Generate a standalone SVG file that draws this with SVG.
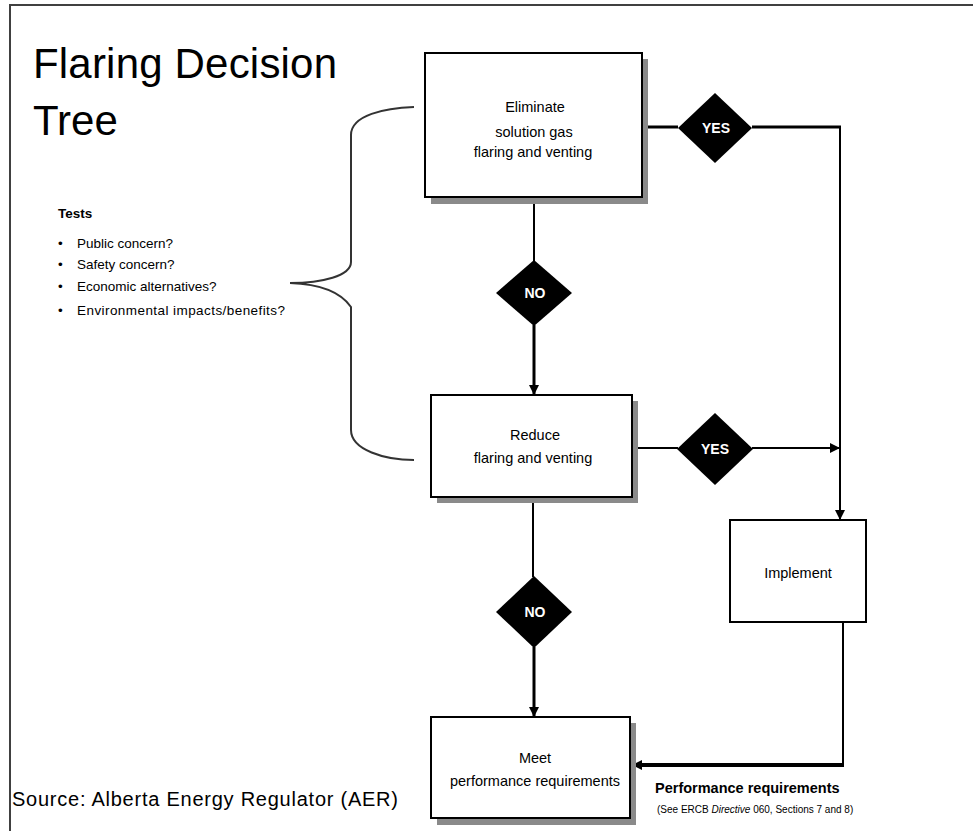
<svg xmlns="http://www.w3.org/2000/svg" width="973" height="831" viewBox="0 0 973 831">
<defs>
<style>
.box{fill:#fff;stroke:#000;stroke-width:2}
.shadow{fill:#8a8a8a}
.dia{fill:#000}
.lbl{font-family:"Liberation Sans",Arial,sans-serif;font-size:14.5px;fill:#000;text-anchor:middle}
.dl{font-family:"Liberation Sans",Arial,sans-serif;font-size:14px;font-weight:bold;fill:#fff;text-anchor:middle}
.tx{font-family:"Liberation Sans",Arial,sans-serif;font-size:13.5px;fill:#000}
.ln{fill:none;stroke:#000;stroke-width:2}
.th{fill:none;stroke:#000;stroke-width:3}
</style>
<marker id="ah" viewBox="0 0 10 10" refX="10" refY="5" markerWidth="10" markerHeight="10" markerUnits="userSpaceOnUse" orient="auto">
<path d="M0,0 L10,5 L0,10 z" fill="#000"/>
</marker>
</defs>
<rect width="973" height="831" fill="#fff"/>
<g id="frame" fill="none" stroke="#404040" stroke-width="2">
<path d="M10,831 L10,5 L973,5"/>
</g>
<g id="title">
<text x="33" y="78" font-family="'Liberation Sans',Arial,sans-serif" font-size="42" fill="#000" textLength="304">Flaring Decision</text>
<text x="33" y="135" font-family="'Liberation Sans',Arial,sans-serif" font-size="42" fill="#000">Tree</text>
</g>
<g id="tests">
<text x="58" y="218" class="tx" font-weight="bold">Tests</text>
<text x="58" y="248" class="tx">•</text><text x="77" y="248" class="tx">Public concern?</text>
<text x="58" y="269" class="tx">•</text><text x="77" y="269" class="tx">Safety concern?</text>
<text x="58" y="291" class="tx">•</text><text x="77" y="291" class="tx">Economic alternatives?</text>
<text x="58" y="315" class="tx">•</text><text x="77" y="315" class="tx" textLength="208">Environmental impacts/benefits?</text>
</g>
<g id="brace">
<path d="M414,107 C385,108 351,115 351,135 L351,262 C351,276 322,283 290,283 C318,284 340,291 351,307 L351,430 C351,450 385,460 414,460" fill="none" stroke="#333" stroke-width="2"/>
</g>
<g id="connectors">
<path class="th" d="M642,127 L678,127"/>
<path class="th" d="M752,127 L841,127"/>
<path class="ln" d="M840,127 L840,520" marker-end="url(#ah)"/>
<path class="ln" d="M534,197 L534,261"/>
<path class="th" d="M534,325 L534,395" marker-end="url(#ah)"/>
<path class="ln" d="M632,448 L678,448"/>
<path class="ln" d="M752,448 L840,448" marker-end="url(#ah)"/>
<path class="ln" d="M533,497 L533,577"/>
<path class="th" d="M534,647 L534,717" marker-end="url(#ah)"/>
<path class="ln" d="M843,622 L843,765"/>
<path d="M844,765 L632,765" fill="none" stroke="#000" stroke-width="4" marker-end="url(#ah)"/>
</g>
<g id="eliminate">
<rect class="shadow" x="431" y="59" width="217" height="145"/>
<rect class="box" x="425" y="53" width="217" height="144"/>
<text class="lbl" x="535" y="112">Eliminate</text>
<text class="lbl" x="534" y="137">solution gas</text>
<text class="lbl" x="533" y="157">flaring and venting</text>
</g>
<g id="yes1">
<polygon class="dia" points="715,93 752,128 715,163 678,128"/>
<text class="dl" x="716" y="133">YES</text>
</g>
<g id="no1">
<polygon class="dia" points="534,260 572,293 534,326 496,293"/>
<text class="dl" x="535" y="298">NO</text>
</g>
<g id="reduce">
<rect class="shadow" x="437" y="401" width="201" height="102"/>
<rect class="box" x="431" y="395" width="201" height="102"/>
<text class="lbl" x="535" y="440">Reduce</text>
<text class="lbl" x="533" y="463">flaring and venting</text>
</g>
<g id="yes2">
<polygon class="dia" points="715,413 753,449 715,485 677,449"/>
<text class="dl" x="715" y="454">YES</text>
</g>
<g id="implement">
<rect class="box" x="730" y="520" width="136" height="102"/>
<text class="lbl" x="798" y="578">Implement</text>
</g>
<g id="no2">
<polygon class="dia" points="534,576 572,612 534,648 496,612"/>
<text class="dl" x="535" y="617">NO</text>
</g>
<g id="meet">
<rect class="shadow" x="437" y="723" width="199" height="102"/>
<rect class="box" x="431" y="717" width="199" height="101"/>
<text class="lbl" x="535" y="763">Meet</text>
<text class="lbl" x="535" y="786">performance requirements</text>
</g>
<g id="perf-note">
<text x="655" y="793" font-family="'Liberation Sans',Arial,sans-serif" font-size="14.5" font-weight="bold" fill="#000">Performance requirements</text>
<text x="657" y="813" font-family="'Liberation Sans',Arial,sans-serif" font-size="10" fill="#000">(See ERCB <tspan font-style="italic">Directive</tspan> 060, Sections 7 and 8)</text>
</g>
<g id="source">
<text x="12" y="806" font-family="'Liberation Sans',Arial,sans-serif" font-size="20" fill="#000" textLength="386">Source: Alberta Energy Regulator (AER)</text>
</g>
</svg>
